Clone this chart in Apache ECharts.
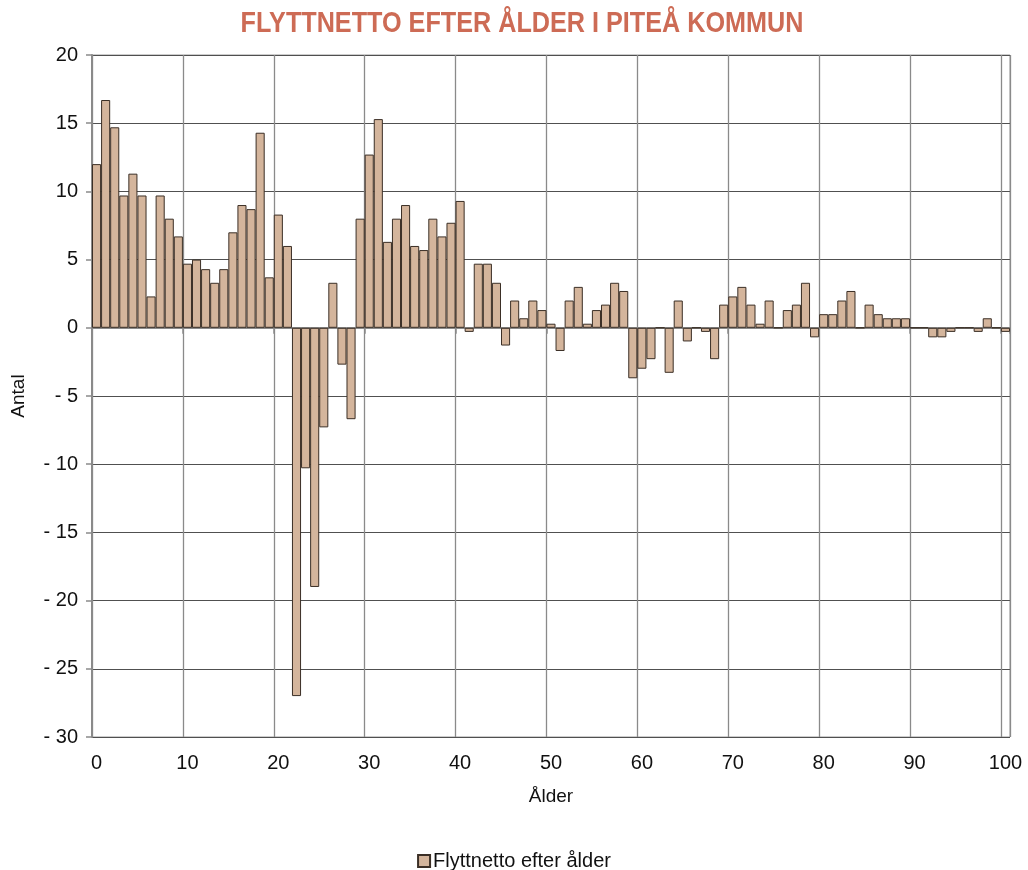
<!DOCTYPE html>
<html lang="sv">
<head>
  <meta charset="UTF-8">
  <title>flyttnetto</title>
  <script src="https://cdn.jsdelivr.net/npm/echarts@6/dist/echarts.min.js"></script>
  <style>
    *{margin:0;padding:0;}
    body{background:#fff;}
    .container{width:1028px;height:870px;}
  </style>
</head>
<body>
  <div class="container"></div>

  <script type="text/javascript">
    // ålder 0..100
    var ages = []
    for (var a = 0; a <= 100; a++) ages.push(String(a))

    var netto = [
      12, 16.7, 14.7, 9.7, 11.3, 9.7, 2.3, 9.7, 8, 6.7,
      4.7, 5, 4.3, 3.3, 4.3, 7, 9, 8.7, 14.3, 3.7,
      8.3, 6, -27, -10.3, -19, -7.3, 3.3, -2.7, -6.7, 8,
      12.7, 15.3, 6.3, 8, 9, 6, 5.7, 8, 6.7, 7.7,
      9.3, -0.3, 4.7, 4.7, 3.3, -1.3, 2, 0.7, 2, 1.3,
      0.3, -1.7, 2, 3, 0.3, 1.3, 1.7, 3.3, 2.7, -3.7,
      -3, -2.3, 0, -3.3, 2, -1, 0, -0.3, -2.3, 1.7,
      2.3, 3, 1.7, 0.3, 2, 0, 1.3, 1.7, 3.3, -0.7,
      1, 1, 2, 2.7, 0, 1.7, 1, 0.7, 0.7, 0.7,
      0, 0, -0.7, -0.7, -0.3, 0, 0, -0.3, 0.7, 0,
      -0.3
    ]

    var yMin = -30, yMax = 20, yStep = 5

    const mCharts = echarts.init(document.querySelector('.container'))
    var font = '"Liberation Sans", Arial, sans-serif'

    var option = {
      animation: false,
      textStyle: { fontFamily: font },
      // rubriken som graphic så att den kan smalnas av (ingen narrow-font finns)
      graphic: [
        {
          type: 'text',
          x: 522,
          y: 24,
          scaleX: 0.84,
          style: {
            text: 'FLYTTNETTO EFTER ÅLDER I PITEÅ KOMMUN',
            align: 'center',
            verticalAlign: 'middle',
            fontFamily: font,
            fontWeight: 'bold',
            fontSize: 30,
            fill: '#cd6b55'
          }
        }
      ],
      legend: {
        top: 846,
        left: 'center',
        icon: 'rect',
        itemWidth: 12,
        itemHeight: 12,
        itemGap: 4,
        textStyle: { fontSize: 20, color: '#111', fontFamily: font, padding: [0, 0, 0, -2] },
        data: ['Flyttnetto efter ålder']
      },
      grid: {
        left: 92, right: 18, top: 55, bottom: 133,
        show: true,
        borderColor: '#9a9a9a',
        borderWidth: 1
      },
      xAxis: [
        {
          type: 'category',
          data: ages,
          position: 'bottom',
          name: 'Ålder',
          nameLocation: 'middle',
          nameGap: 50,
          nameTextStyle: { fontSize: 19, color: '#111' },
          axisLine: { show: false, onZero: false },
          axisTick: { show: false },
          axisLabel: { interval: 9, fontSize: 20, color: '#111', margin: 16 },
          splitLine: { show: true, interval: 9, lineStyle: { color: '#8a8a8a', width: 1.3 } }
        },
        {
          type: 'category',
          data: ages,
          position: 'bottom',
          axisLine: { show: true, onZero: true, lineStyle: { color: '#8a8a8a', width: 2 } },
          axisTick: { show: true, interval: 9, length: 6, lineStyle: { color: '#8a8a8a', width: 1.5 } },
          axisLabel: { show: false },
          splitLine: { show: false }
        }
      ],
      yAxis: {
        type: 'value',
        min: yMin,
        max: yMax,
        interval: yStep,
        name: 'Antal',
        nameLocation: 'middle',
        nameGap: 64,
        nameTextStyle: { fontSize: 19, color: '#111' },
        axisLine: { show: true, lineStyle: { color: '#8a8a8a', width: 2 } },
        axisTick: { show: true, length: 6, lineStyle: { color: '#8a8a8a', width: 1.5 } },
        axisLabel: {
          fontSize: 20,
          color: '#111',
          margin: 14,
          formatter: function (v) { return v < 0 ? '- ' + Math.abs(v) : String(v) }
        },
        splitLine: { show: true, lineStyle: { color: '#505050', width: 1 } }
      },
      series: [
        {
          name: 'Flyttnetto efter ålder',
          type: 'bar',
          data: netto,
          xAxisIndex: 0,
          barCategoryGap: '0%',
          itemStyle: {
            color: '#d4b59c',
            borderColor: '#3b2f26',
            borderWidth: 1
          }
        }
      ]
    }
    mCharts.setOption(option)
  </script>
</body>
</html>
